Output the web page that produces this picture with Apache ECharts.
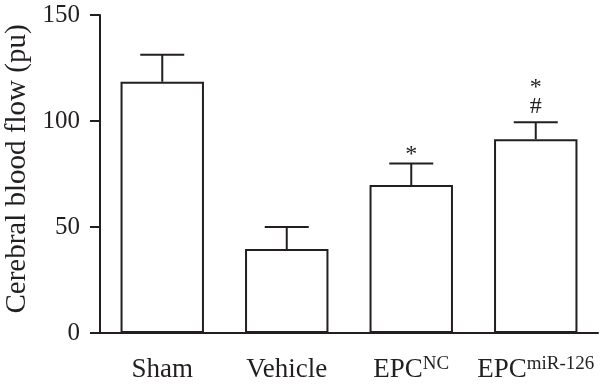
<!DOCTYPE html>
<html>
<head>
<meta charset="utf-8">
<script src="https://cdn.jsdelivr.net/npm/echarts@6/dist/echarts.min.js"></script>
<style>
html,body{margin:0;padding:0;background:#fff;}
#chart{width:600px;height:389px;}
</style>
</head>
<body>
<div id="chart"></div>
<script>
// Data
const categories = ['Sham', 'Vehicle', 'EPC', 'EPC'];
const categorySup = ['', '', 'NC', 'miR-126'];
const means = [118.5, 39.6, 69.8, 91.4];
const errors = [12.7, 10.4, 10.1, 8.0];
const sigMarks = [[], [], ['*'], ['#', '*']]; // listed bottom to top
const yMin = 0, yMax = 150, yStep = 50;
const yTitle = 'Cerebral blood flow (pu)';

const INK = '#231f20';
const FONT = "'Liberation Serif', 'DejaVu Serif', serif";

const chart = echarts.init(document.getElementById('chart'), null, {renderer: 'canvas'});

const errData = categories.map((c, i) => [i, means[i], errors[i], i]);

const option = {
  animation: false,
  backgroundColor: '#fff',
  grid: {left: 100, right: 2, top: 15, bottom: 56, containLabel: false, outerBoundsMode: 'none'},
  xAxis: {
    type: 'category',
    data: categories,
    boundaryGap: true,
    axisLine: {lineStyle: {color: INK, width: 2}},
    axisTick: {alignWithLabel: true, length: 10, lineStyle: {color: INK, width: 2}},
    axisLabel: {
      interval: 0,
      hideOverlap: false,
      margin: 22,
      color: INK,
      fontFamily: FONT,
      formatter: function (value, index) {
        const sup = categorySup[index];
        return sup ? '{b|' + value + '}{s|' + sup + '}' : '{b|' + value + '}';
      },
      rich: {
        b: {fontSize: 27, fontFamily: FONT, color: INK, lineHeight: 30},
        s: {fontSize: 19, fontFamily: FONT, color: INK, lineHeight: 14, verticalAlign: 'top'}
      }
    }
  },
  yAxis: {
    type: 'value',
    min: yMin, max: yMax, interval: yStep,
    name: yTitle,
    nameLocation: 'middle',
    nameGap: 60,
    nameTextStyle: {fontSize: 29, fontFamily: FONT, color: INK, padding: [0, 0, 0, 10]},
    splitLine: {show: false},
    axisLine: {show: true, lineStyle: {color: INK, width: 2}},
    axisTick: {show: true, length: 10, lineStyle: {color: INK, width: 2}},
    axisLabel: {margin: 20, fontSize: 25, fontFamily: FONT, color: INK}
  },
  series: [
    {
      type: 'bar',
      data: means,
      barWidth: '67%',
      itemStyle: {color: '#fff', borderColor: INK, borderWidth: 2},
      z: 2
    },
    {
      type: 'custom',
      data: errData,
      encode: {x: 0, y: 1},
      z: 3,
      renderItem: function (params, api) {
        const i = api.value(0);
        const m = api.value(1);
        const e = api.value(2);
        const base = api.coord([i, m]);
        const top = api.coord([i, m + e]);
        const half = 22;
        const children = [
          {type: 'line', shape: {x1: base[0], y1: base[1], x2: top[0], y2: top[1]}, style: {stroke: INK, lineWidth: 2}},
          {type: 'line', shape: {x1: top[0] - half, y1: top[1], x2: top[0] + half, y2: top[1]}, style: {stroke: INK, lineWidth: 2}}
        ];
        const marks = sigMarks[api.value(3)];
        marks.forEach(function (mk, k) {
          let dy;
          if (mk === '*') dy = (k === 0 ? 9 : 35);
          else dy = 16;
          children.push({
            type: 'text',
            style: {
              text: mk, x: top[0], y: top[1] - dy,
              align: 'center', verticalAlign: 'middle',
              font: '24px ' + FONT, fill: INK
            }
          });
        });
        return {type: 'group', children: children};
      }
    }
  ]
};
chart.setOption(option);
</script>
</body>
</html>
